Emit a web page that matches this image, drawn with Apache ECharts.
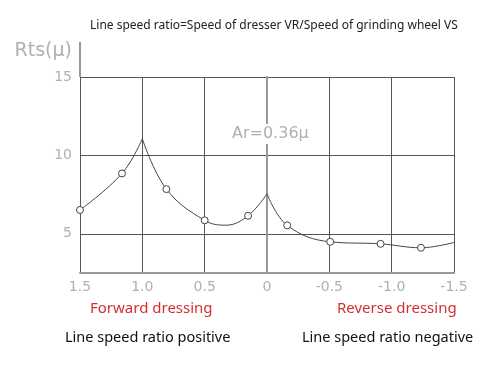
<!DOCTYPE html>
<html>
<head>
<meta charset="utf-8">
<script src="https://cdn.jsdelivr.net/npm/echarts@6/dist/echarts.min.js"></script>
<style>
  html, body { margin: 0; padding: 0; background: #fff; }
</style>
</head>
<body>
<div id="main" style="width: 500px;height:375px;"></div>
<script>
  // 线速比（横轴，从 1.5 到 -1.5）
  let xTicks = [1.5, 1.0, 0.5, 0, -0.5, -1.0, -1.5];
  let yTicks = [5, 10, 15];

  // 三段曲线：正向修整 1.5→1.0，1.0→0，反向修整 0→-1.5
  let segAx = [1.5, 1.163, 1.0];
  let segAy = [6.52, 8.85, 11.06];
  let segAmark = [1, 1, 0];

  let segBx = [1.0, 0.807, 0.5, 0.33, 0.152, 0];
  let segBy = [11.06, 7.85, 5.86, 5.55, 6.15, 7.55];
  let segBmark = [0, 1, 1, 0, 1, 0];

  let segCx = [0, -0.162, -0.507, -0.911, -1.235, -1.5];
  let segCy = [7.55, 5.54, 4.49, 4.36, 4.11, 4.45];
  let segCmark = [0, 1, 1, 1, 1, 0];

  let cadFont = "'DejaVu Sans', sans-serif";
  let textFont = "'Noto Sans', 'Open Sans', sans-serif";

  function buildData(xs, ys, marks) {
    return xs.map(function (x, i) {
      return {
        value: [x, ys[i]],
        symbol: marks[i] ? 'circle' : 'none'
      };
    });
  }

  function curve(xs, ys, marks) {
    return {
      type: 'line',
      smooth: 0.4,
      symbolSize: 7,
      showSymbol: true,
      silent: true,
      lineStyle: { color: '#444', width: 1 },
      itemStyle: { color: '#fff', borderColor: '#444', borderWidth: 1 },
      data: buildData(xs, ys, marks)
    };
  }

  let myChart = echarts.init(document.getElementById('main'));
  let option = {
    animation: false,
    title: {
      text: 'Line speed ratio=Speed of dresser VR/Speed of grinding wheel VS',
      left: 90,
      top: 20,
      padding: 0,
      textStyle: { fontFamily: textFont, fontSize: 12, fontWeight: 'normal', color: '#222' }
    },
    grid: { left: 80, right: 46, top: 77, bottom: 102 },
    xAxis: {
      type: 'value',
      inverse: true,
      min: -1.5,
      max: 1.5,
      interval: 0.5,
      axisLine: { show: true, lineStyle: { color: '#999', width: 2 } },
      axisTick: { show: false },
      axisLabel: {
        margin: 7,
        color: '#b0b0b0',
        fontFamily: cadFont,
        fontSize: 14,
        formatter: function (v) { return v === 0 ? '0' : v.toFixed(1); }
      },
      splitLine: { show: true, lineStyle: { color: '#555', width: 1 } }
    },
    yAxis: {
      type: 'value',
      min: 2.5,
      max: 15,
      interval: 2.5,
      axisLine: { show: true, lineStyle: { color: '#999', width: 2 } },
      axisTick: { show: false },
      axisLabel: {
        margin: 8,
        color: '#b0b0b0',
        fontFamily: cadFont,
        fontSize: 14,
        formatter: function (v) { return yTicks.indexOf(v) >= 0 ? String(v) : ''; }
      },
      splitLine: { show: true, lineStyle: { color: ['transparent', '#555'], width: 1 } }
    },
    graphic: [
      {
        type: 'line',
        shape: { x1: 80, y1: 42, x2: 80, y2: 77 },
        style: { stroke: '#999', lineWidth: 2 }
      },
      {
        type: 'text',
        right: 428,
        top: 42,
        style: { text: 'Rts(μ)', font: '19px ' + cadFont, fill: '#b0b0b0' }
      },
      {
        type: 'text',
        left: 230,
        top: 124,
        z: 10,
        style: {
          text: 'Ar=0.36μ',
          font: '16px ' + cadFont,
          fill: '#b0b0b0',
          backgroundColor: '#fff',
          padding: [2, 2]
        }
      },
      {
        type: 'text',
        left: 90,
        top: 301,
        style: { text: 'Forward dressing', font: '15px ' + textFont, fill: '#d32f2f' }
      },
      {
        type: 'text',
        left: 337,
        top: 301,
        style: { text: 'Reverse dressing', font: '15px ' + textFont, fill: '#d32f2f' }
      },
      {
        type: 'text',
        left: 65,
        top: 330,
        style: { text: 'Line speed ratio positive', font: '14.5px ' + textFont, fill: '#111' }
      },
      {
        type: 'text',
        left: 302,
        top: 330,
        style: { text: 'Line speed ratio negative', font: '14.5px ' + textFont, fill: '#111' }
      }
    ],
    series: [
      curve(segAx, segAy, segAmark),
      curve(segBx, segBy, segBmark),
      curve(segCx, segCy, segCmark)
    ]
  };
  myChart.setOption(option);
</script>
</body>
</html>
